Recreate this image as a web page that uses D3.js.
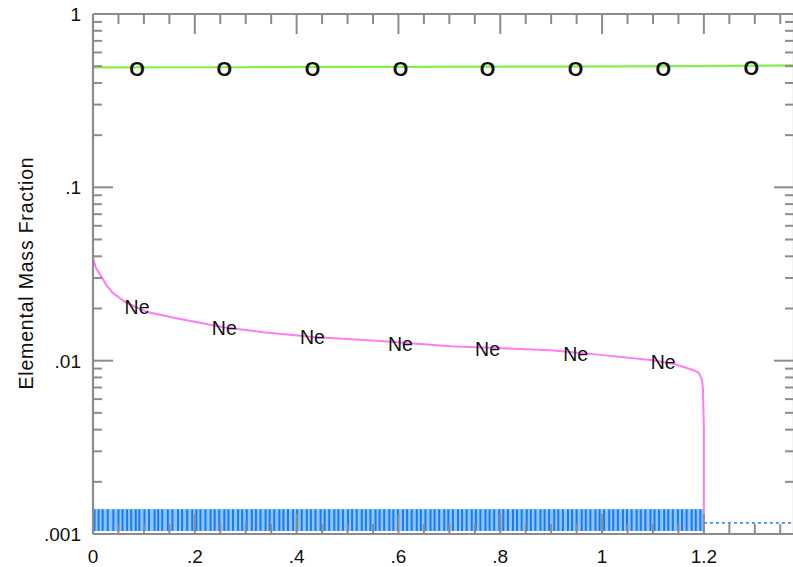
<!DOCTYPE html>
<html>
<head>
<meta charset="utf-8">
<script src="https://cdn.jsdelivr.net/npm/d3@7"></script>
<style>
  body { margin: 0; background: #fff; }
  svg { display: block; }
  text { font-family: "Liberation Sans", Arial, sans-serif; fill: #111; }
</style>
</head>
<body>
<svg id="chart" width="793" height="567"></svg>
<script>
// Oxygen mass fraction along the radius
const oxygenCurve = [
  [0.000, 0.492], [0.300, 0.493], [0.600, 0.495], [0.900, 0.497],
  [1.200, 0.500], [1.377, 0.506]
];
// Neon mass fraction along the radius
const neonCurve = [
  [0.000, 0.0391], [0.006, 0.0342], [0.018, 0.0300], [0.0275, 0.0270],
  [0.039, 0.0246], [0.063, 0.0218], [0.085, 0.0203],
  [0.106, 0.0191], [0.171, 0.0174], [0.256, 0.0156], [0.334, 0.0146],
  [0.433, 0.0137], [0.564, 0.0130], [0.702, 0.0121], [0.899, 0.0115],
  [0.997, 0.0108], [1.095, 0.0101], [1.140, 0.0096], [1.160, 0.0092],
  [1.180, 0.0088], [1.190, 0.0085], [1.196, 0.0078],
  [1.198, 0.0070], [1.200, 0.0040], [1.200, 0.0001]
];
// Zone boundaries of the mesh (drawn as tick strip near the floor)
const zoneEdges = [
  0.003,0.011,0.019,0.029,0.040,0.050,0.058,0.067,0.075,0.084,
  0.091,0.101,0.110,0.121,0.128,0.136,0.147,0.156,0.167,0.175,
  0.185,0.195,0.203,0.211,0.221,0.231,0.239,0.248,0.258,0.266,
  0.275,0.285,0.293,0.302,0.312,0.320,0.329,0.339,0.347,0.356,
  0.366,0.374,0.383,0.393,0.401,0.410,0.420,0.428,0.437,0.447,
  0.455,0.464,0.474,0.482,0.491,0.501,0.509,0.518,0.528,0.536,
  0.545,0.555,0.563,0.572,0.582,0.590,0.599,0.609,0.617,0.626,
  0.636,0.644,0.653,0.663,0.671,0.680,0.690,0.698,0.707,0.717,
  0.725,0.734,0.744,0.752,0.761,0.771,0.779,0.788,0.798,0.806,
  0.815,0.825,0.833,0.842,0.852,0.860,0.869,0.879,0.887,0.896,
  0.906,0.914,0.923,0.933,0.941,0.950,0.960,0.968,0.977,0.987,
  0.995,1.004,1.014,1.022,1.031,1.041,1.049,1.058,1.068,1.076,
  1.085,1.095,1.103,1.112,1.122,1.130,1.139,1.149,1.157,1.166,
  1.176,1.184,1.193
];
const zoneBand = [0.0, 1.2, 0.00139];      // x start, x end, strip top value
const outerLevel = [[1.2, 0.00116], [1.377, 0.00116]];

// Species labels
const oxygenLabels = [
  [0.0865, 0.487], [0.258, 0.487], [0.431, 0.487], [0.604, 0.487],
  [0.775, 0.487], [0.948, 0.487], [1.120, 0.489], [1.293, 0.496]
];
const neonLabels = [
  [0.0865, 0.0204], [0.258, 0.0154], [0.431, 0.0137], [0.604, 0.01247],
  [0.775, 0.01167], [0.948, 0.0109], [1.120, 0.00982]
];

// Axis ticks
const xMajor = [0, 0.2, 0.4, 0.6, 0.8, 1.0, 1.2];
const xMajorLabels = ["0", ".2", ".4", ".6", ".8", "1", "1.2"];
const xMinor = [0.05,0.1,0.15,0.25,0.3,0.35,0.45,0.5,0.55,0.65,0.7,0.75,0.85,0.9,0.95,1.05,1.1,1.15,1.25,1.3,1.35];
const yMajor = [1, 0.1, 0.01, 0.001];
const yMajorLabels = ["1", ".1", ".01", ".001"];

const svg = d3.select("#chart");
const padL = 93, padT = 14, edgeR = 794, edgeB = 534;

const x = d3.scaleLinear().domain([0, 1.377]).range([padL, edgeR]);
const y = d3.scaleLog().domain([0.001, 1]).range([edgeB, padT]);

const yMinor = [];
[0.001, 0.01, 0.1].forEach(d => { for (let k = 2; k <= 9; k++) yMinor.push(d * k); });

svg.append("defs").append("clipPath").attr("id", "plot")
  .append("rect").attr("x", padL).attr("y", padT)
  .attr("width", edgeR - padL).attr("height", edgeB - padT);

const plot = svg.append("g").attr("clip-path", "url(#plot)");

// mesh strip
plot.append("rect")
  .attr("x", x(zoneBand[0])).attr("y", y(zoneBand[2]))
  .attr("width", x(zoneBand[1]) - x(zoneBand[0]))
  .attr("height", y(0.001) - y(zoneBand[2]) - 3)
  .attr("fill", "#8cc4fa");
plot.selectAll("line.zone").data(zoneEdges).join("line")
  .attr("class", "zone")
  .attr("x1", d => x(d)).attr("x2", d => x(d))
  .attr("y1", y(zoneBand[2])).attr("y2", y(0.001) - 3)
  .attr("stroke", "#1a7ced").attr("stroke-width", 2);
plot.append("path")
  .attr("d", d3.line().x(d => x(d[0])).y(d => y(d[1]))(outerLevel))
  .attr("fill", "none").attr("stroke", "#3d8ff0").attr("stroke-width", 1.6)
  .attr("stroke-dasharray", "3,3");

const line = d3.line().x(d => x(d[0])).y(d => y(d[1]));

plot.append("path").attr("d", line(oxygenCurve))
  .attr("fill", "none").attr("stroke", "#84f04a").attr("stroke-width", 2.2);
plot.append("path").attr("d", line(neonCurve))
  .attr("fill", "none").attr("stroke", "#ff7cf6").attr("stroke-width", 2)
  .attr("stroke-linejoin", "round");

// axes frame
const axisColor = "#8c8c8c";
const frame = svg.append("g").attr("stroke", axisColor).attr("stroke-width", 2.2).attr("fill", "none");
frame.append("line").attr("x1", padL).attr("x2", edgeR).attr("y1", padT).attr("y2", padT);
frame.append("line").attr("x1", padL).attr("x2", edgeR).attr("y1", edgeB).attr("y2", edgeB);
frame.append("line").attr("x1", padL).attr("x2", padL).attr("y1", padT).attr("y2", edgeB);
frame.append("line").attr("x1", edgeR).attr("x2", edgeR).attr("y1", padT).attr("y2", edgeB);

const ticks = svg.append("g").attr("stroke", axisColor).attr("stroke-width", 2);
function xTick(v, len) {
  ticks.append("line").attr("x1", x(v)).attr("x2", x(v)).attr("y1", edgeB).attr("y2", edgeB - len);
  ticks.append("line").attr("x1", x(v)).attr("x2", x(v)).attr("y1", padT).attr("y2", padT + len);
}
function yTick(v, len) {
  ticks.append("line").attr("x1", padL).attr("x2", padL + len).attr("y1", y(v)).attr("y2", y(v));
  ticks.append("line").attr("x1", edgeR).attr("x2", edgeR - len).attr("y1", y(v)).attr("y2", y(v));
}
xMajor.forEach(v => xTick(v, 20));
xMinor.forEach(v => xTick(v, 10));
yMajor.forEach(v => yTick(v, 20));
yMinor.forEach(v => yTick(v, 9));

// tick labels
svg.selectAll("text.xl").data(xMajor).join("text")
  .attr("class", "xl")
  .attr("x", d => x(d)).attr("y", 563)
  .attr("text-anchor", "middle").attr("font-size", 19)
  .text((d, i) => xMajorLabels[i]);
svg.selectAll("text.yl").data(yMajor).join("text")
  .attr("class", "yl")
  .attr("x", 81).attr("y", d => y(d) + 7)
  .attr("text-anchor", "end").attr("font-size", 19)
  .text((d, i) => yMajorLabels[i]);

svg.append("text")
  .attr("transform", "translate(33,273) rotate(-90)")
  .attr("text-anchor", "middle").attr("font-size", 19.5)
  .attr("letter-spacing", 0.8)
  .text("Elemental Mass Fraction");

// species labels
svg.selectAll("text.o").data(oxygenLabels).join("text")
  .attr("class", "o")
  .attr("x", d => x(d[0])).attr("y", d => y(d[1]) + 8)
  .attr("text-anchor", "middle").attr("font-size", 20).attr("font-weight", "bold")
  .text("O");
svg.selectAll("text.ne").data(neonLabels).join("text")
  .attr("class", "ne")
  .attr("x", d => x(d[0])).attr("y", d => y(d[1]) + 7)
  .attr("text-anchor", "middle").attr("font-size", 19.5)
  .text("Ne");
</script>
</body>
</html>
